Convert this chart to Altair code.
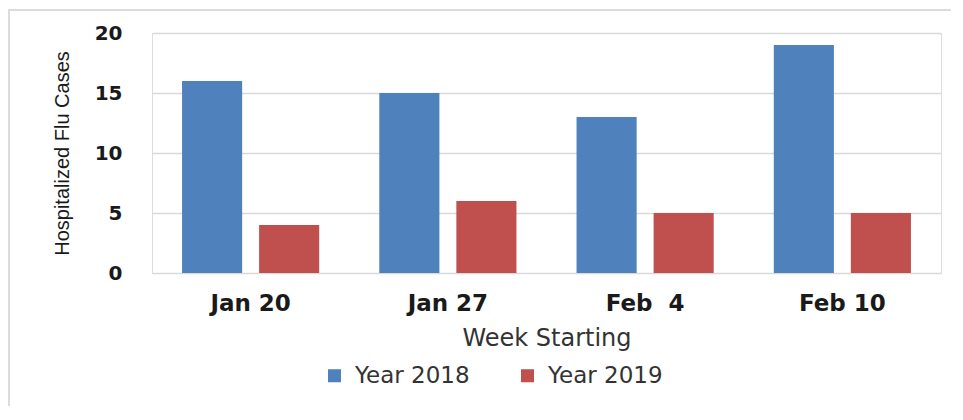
import altair as alt
import pandas as pd

weeks = ["Jan 20", "Jan 27", "Feb\u00a0\u00a04", "Feb 10"]
series = ["Year 2018", "Year 2019"]
cases_2018 = [16, 15, 13, 19]
cases_2019 = [4, 6, 5, 5]
y_ticks = [0, 5, 10, 15, 20]
colors = ["#4F81BD", "#C0504D"]

rows = []
for w, a, b in zip(weeks, cases_2018, cases_2019):
    rows.append({"week": w, "series": series[0], "cases": a})
    rows.append({"week": w, "series": series[1], "cases": b})
df = pd.DataFrame(rows)

bars = alt.Chart(df).mark_bar().encode(
    x=alt.X("week:N", sort=weeks,
            scale=alt.Scale(paddingInner=0, paddingOuter=0),
            axis=alt.Axis(title="Week Starting", labelAngle=0, ticks=False, domain=False,
                          labelFont="DejaVu Sans", labelFontWeight="bold", labelFontSize=23,
                          labelColor="#1a1a1a", labelPadding=19,
                          titleFont="DejaVu Sans", titleFontWeight="normal", titleFontSize=24,
                          titleColor="#333333", titlePadding=11)),
    xOffset=alt.XOffset("series:N", sort=series,
                        scale=alt.Scale(paddingInner=0.22, paddingOuter=0.39)),
    y=alt.Y("cases:Q", scale=alt.Scale(domain=[0, 20]),
            axis=alt.Axis(title="Hospitalized Flu Cases", values=y_ticks, ticks=False, domain=False,
                          grid=True, gridColor="#d9d9d9", gridWidth=1.5,
                          labelFont="DejaVu Sans", labelFontWeight="bold", labelFontSize=20,
                          labelColor="#1a1a1a", labelPadding=30,
                          titleFont="Liberation Sans", titleFontWeight="normal", titleFontSize=20,
                          titleColor="#1a1a1a", titlePadding=22)),
    color=alt.Color("series:N", sort=series,
                    scale=alt.Scale(domain=series, range=colors),
                    legend=alt.Legend(title=None, orient="none", direction="horizontal",
                                      legendX=171, legendY=331, padding=0,
                                      symbolType="square", symbolSize=170,
                                      symbolStrokeWidth=0,
                                      labelFont="DejaVu Sans", labelFontSize=23,
                                      labelColor="#333333", labelOffset=9,
                                      columnPadding=46)),
)

frame_data = alt.Data(values=[{"k": 1}])
frame_top = alt.Chart(frame_data).mark_rule(color="#dcdcdc", strokeWidth=2).encode(
    x=alt.value(-144), x2=alt.value(800), y=alt.value(-23))
frame_left = alt.Chart(frame_data).mark_rule(color="#dcdcdc", strokeWidth=2).encode(
    x=alt.value(-143), y=alt.value(-23), y2=alt.value(400))

chart = alt.layer(frame_top, frame_left, bars).properties(
    width=789, height=240,
    autosize=alt.AutoSizeParams(type="none"),
    padding={"left": 144, "top": 25, "right": 10, "bottom": 133},
).configure_view(stroke=None).configure(background="white")

chart.save("out.html", embed_options={"renderer": "svg", "actions": False})
